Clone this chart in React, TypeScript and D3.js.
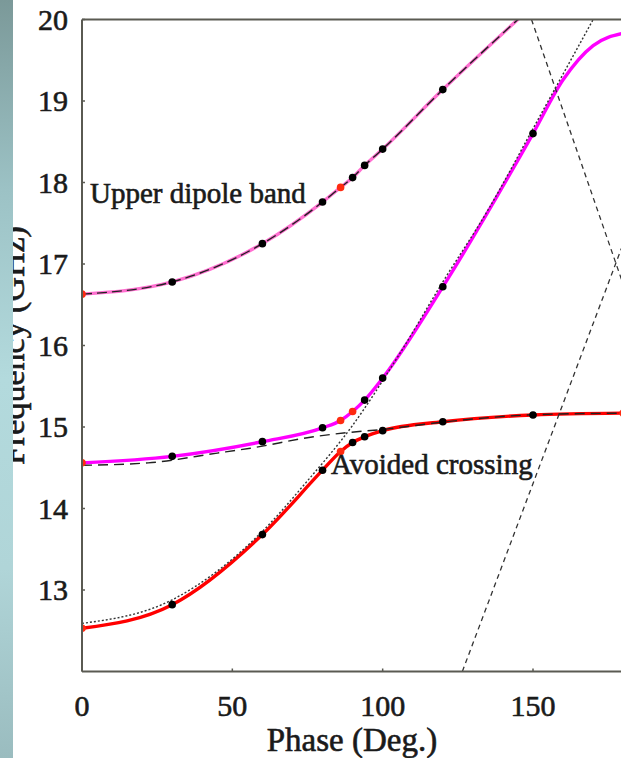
import React from 'react';
import * as d3 from 'd3';

const W = 621;
const H = 758;

// Upper dipole band (pink) with markers
const upperPhase = [0, 30, 60, 80, 86, 90, 94, 100, 120, 150];
const upperFreq = [16.63, 16.78, 17.25, 17.76, 17.94, 18.06, 18.21, 18.41, 19.14, 20.17];
const upperMarks = ['r', 'b', 'b', 'b', 'r', 'b', 'b', 'b', 'b', 'b'];

// Middle band (magenta)
const middlePhase = [0, 30, 60, 80, 86, 90, 94, 100, 120, 150, 160, 170, 180];
const middleFreq = [14.56, 14.64, 14.82, 14.99, 15.08, 15.19, 15.33, 15.6, 16.72, 18.6, 19.26, 19.68, 19.83];
const middleMarks = ['r', 'b', 'b', 'b', 'r', 'r', 'b', 'b', 'b', 'b', '', '', ''];

// Lower band (red)
const lowerPhase = [0, 30, 60, 80, 86, 90, 94, 100, 120, 150, 180];
const lowerFreq = [12.53, 12.82, 13.68, 14.47, 14.7, 14.81, 14.88, 14.955, 15.065, 15.147, 15.17];
const lowerMarks = ['r', 'b', 'b', 'b', 'r', 'b', 'b', 'b', 'b', 'b', 'r'];

// Uncoupled light-line (dotted)
const lightPhase = [0, 30, 60, 75, 90, 105, 120, 135, 150, 170];
const lightFreq = [12.59, 12.88, 13.72, 14.34, 15.02, 15.86, 16.78, 17.66, 18.66, 20.0];

// Uncoupled flat mode (dashed)
const flatPhase = [0, 22, 45, 56, 77, 88, 100, 120, 150, 180];
const flatFreq = [14.53, 14.56, 14.68, 14.74, 14.88, 14.93, 14.97, 15.06, 15.15, 15.17];

// Straight folded light lines (dashed)
const lineAPhase = [149.5, 180];
const lineAFreq = [20.0, 16.75];
const lineBPhase = [126.5, 180];
const lineBFreq = [12.0, 17.25];

const xTicks = [0, 50, 100, 150];
const yTicks = [13, 14, 15, 16, 17, 18, 19, 20];

export default function App() {
  const left = 82;
  const top = 19.5;
  const bottom = 671.5;
  const x = d3.scaleLinear().domain([0, 150]).range([left, 533]);
  const y = d3.scaleLinear().domain([12, 20]).range([bottom, top]);

  const line = d3
    .line<[number, number]>()
    .x((d) => x(d[0]))
    .y((d) => y(d[1]))
    .curve(d3.curveMonotoneX);
  const straight = d3
    .line<[number, number]>()
    .x((d) => x(d[0]))
    .y((d) => y(d[1]));

  const zip = (a: number[], b: number[]) => a.map((v, i) => [v, b[i]] as [number, number]);

  const upper = zip(upperPhase, upperFreq);
  const middle = zip(middlePhase, middleFreq);
  const lower = zip(lowerPhase, lowerFreq);
  const light = zip(lightPhase, lightFreq);
  const flat = zip(flatPhase, flatFreq);
  const lineA = zip(lineAPhase, lineAFreq);
  const lineB = zip(lineBPhase, lineBFreq);

  const marks = (ph: number[], fr: number[], mk: string[], key: string) =>
    ph.map((p, i) =>
      mk[i] ? (
        <circle
          key={key + i}
          cx={x(p)}
          cy={y(fr[i])}
          r={3.8}
          fill={mk[i] === 'r' ? '#ff2a10' : '#000'}
        />
      ) : null
    );

  const font = '"Liberation Serif", "Times New Roman", serif';
  const axisColor = '#5a5a52';
  const ink = '#1a1a1a';
  const heavy = { stroke: ink, strokeWidth: 0.6 };

  return (
    <svg
      width={W}
      height={H}
      style={{ position: 'absolute', left: 0, top: 0, display: 'block', background: '#fff' }}
    >
      <defs>
        <linearGradient id="strip" x1="0" y1="0" x2="0" y2="1">
          <stop offset="0" stopColor="#7b9999" />
          <stop offset="0.25" stopColor="#9cc2c5" />
          <stop offset="0.5" stopColor="#b3dadd" />
          <stop offset="0.75" stopColor="#b0d5d8" />
          <stop offset="1" stopColor="#9abcbf" />
        </linearGradient>
        <clipPath id="plot">
          <rect x={left} y={top} width={W - left + 10} height={bottom - top} />
        </clipPath>
      </defs>

      {/* axis title (partly hidden by the strip, as in the original) */}
      <text
        transform={`translate(24, ${(top + bottom) / 2}) rotate(-90)`}
        textAnchor="middle"
        fontFamily={font}
        fontSize={34}
        fill={ink}
        {...heavy}
      >
        Frequency (GHz)
      </text>
      <rect x={0} y={0} width={13} height={H} fill="url(#strip)" />

      <g clipPath="url(#plot)">
        {/* coloured band curves */}
        <path d={line(upper) || ''} fill="none" stroke="#ff6fd0" strokeWidth={3.4} />
        <path d={line(middle) || ''} fill="none" stroke="#ff00ff" strokeWidth={3.4} />
        <path d={line(lower) || ''} fill="none" stroke="#ff0000" strokeWidth={3.4} />

        {/* uncoupled modes */}
        <path d={line(upper) || ''} fill="none" stroke="#222" strokeWidth={1.4} strokeDasharray="10,5" />
        <path d={line(flat) || ''} fill="none" stroke="#222" strokeWidth={1.4} strokeDasharray="10,6" />
        <path d={line(light) || ''} fill="none" stroke="#333" strokeWidth={1.4} strokeDasharray="2,2" />
        <path d={straight(lineA) || ''} fill="none" stroke="#333" strokeWidth={1.3} strokeDasharray="5,4" />
        <path d={straight(lineB) || ''} fill="none" stroke="#333" strokeWidth={1.3} strokeDasharray="5,4" />

        {marks(upperPhase, upperFreq, upperMarks, 'u')}
        {marks(middlePhase, middleFreq, middleMarks, 'm')}
        {marks(lowerPhase, lowerFreq, lowerMarks, 'l')}
      </g>

      {/* frame */}
      <line x1={left} y1={top} x2={left} y2={bottom} stroke={axisColor} strokeWidth={2} />
      <line x1={left} y1={bottom} x2={W} y2={bottom} stroke={axisColor} strokeWidth={2} />
      <line x1={left} y1={top} x2={W} y2={top} stroke={axisColor} strokeWidth={2} />

      {yTicks.map((t) => (
        <g key={'y' + t}>
          <line x1={left} x2={left + 3} y1={y(t)} y2={y(t)} stroke={axisColor} strokeWidth={1.5} />
          <text x={68} y={y(t) + 10} textAnchor="end" fontFamily={font} fontSize={30} fill={ink} {...heavy}>
            {t}
          </text>
        </g>
      ))}
      {xTicks.map((t) => (
        <g key={'x' + t}>
          <line x1={x(t)} x2={x(t)} y1={bottom} y2={bottom - 3} stroke={axisColor} strokeWidth={1.5} />
          <text x={x(t)} y={716} textAnchor="middle" fontFamily={font} fontSize={30} fill={ink} {...heavy}>
            {t}
          </text>
        </g>
      ))}

      <text x={352} y={751} textAnchor="middle" fontFamily={font} fontSize={33} fill={ink} {...heavy}>
        Phase (Deg.)
      </text>

      <text x={90} y={203} fontFamily={font} fontSize={29} fill={ink} {...heavy}>
        Upper dipole band
      </text>
      <text x={331} y={474} fontFamily={font} fontSize={29} fill={ink} {...heavy}>
        Avoided crossing
      </text>
    </svg>
  );
}
